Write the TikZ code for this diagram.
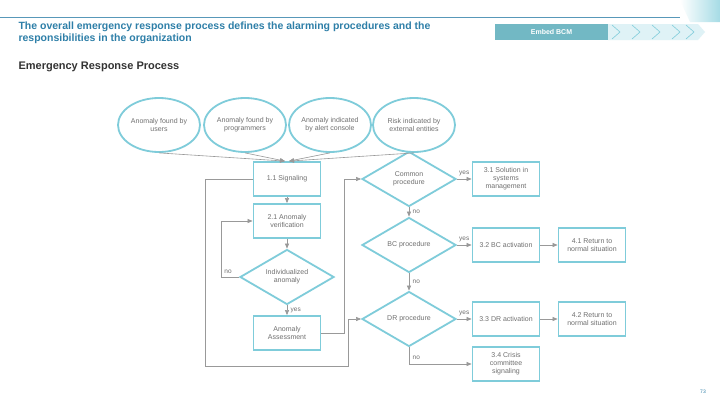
\documentclass[tikz,border=0pt]{standalone}
\usepackage{fontspec}
\setmainfont{Liberation Sans}
\usetikzlibrary{shapes.geometric,arrows.meta}
\definecolor{cy}{HTML}{7FCCDA}
\definecolor{tx}{HTML}{707070}
\definecolor{ttl}{HTML}{2E7FA8}
\definecolor{ln}{HTML}{999999}
\begin{document}
\begin{tikzpicture}[x=1pt,y=-1pt,
 every node/.style={font=\fontsize{7}{8}\selectfont,text=tx,align=center},
 ell/.style={ellipse,draw=cy,line width=1.8pt,minimum width=82pt,minimum height=54pt,inner sep=-4pt},
 box/.style={rectangle,draw=cy,line width=1.8pt,minimum width=67pt,minimum height=34pt,inner sep=1pt},
 dia/.style={diamond,draw=cy,line width=1.8pt,aspect=1.7,minimum width=94pt,minimum height=55pt,inner sep=0pt},
 ar/.style={draw=ln,line width=0.6pt,-{Triangle[length=5pt,width=4pt]}},
 pl/.style={draw=ln,line width=0.6pt},
 lbl/.style={font=\fontsize{6.5}{7}\selectfont}]
\useasboundingbox (0,0) rectangle (720,405);
\fill[white] (0,0) rectangle (720,405);
% header
\draw[ttl!80,line width=0.8pt] (0,17) -- (680,17);
\shade[left color=white,right color=cy!70] (680,0) -- (720,0) -- (720,22) -- (690,22) -- cycle;
\node[anchor=west,align=left,text=ttl,font=\bfseries\fontsize{10.5}{12}\selectfont] (title) at (15,33) {The overall emergency response process defines the alarming procedures and the\\responsibilities in the organization};
\node[anchor=west,text=black!80,font=\bfseries\fontsize{11}{13}\selectfont] (sub) at (15,67) {Emergency Response Process};
\node[fill=cy!90!black,minimum width=113pt,minimum height=16pt,inner sep=0pt,text=white,font=\bfseries\fontsize{7}{8}\selectfont] (bcm) at (551.5,32) {Embed BCM};
\fill[cy!25] (608,24) -- (698,24) -- (705,32) -- (698,40) -- (608,40) -- cycle;
\foreach \x in {612,632,652,672,686}{\draw[cy,line width=0.6pt] (\x,25) -- (\x+8,32) -- (\x,39);}
\node[font=\fontsize{5}{6}\selectfont,text=ttl] (pg) at (703,392) {73};
% nodes
\node[ell] (e1) at (159,125) {Anomaly found by\\users};
\node[ell] (e2) at (245,125) {Anomaly found by\\programmers};
\node[ell] (e3) at (330,125) {Anomaly indicated\\by alert console};
\node[ell] (e4) at (414,125) {Risk indicated by\\external entities};
\node[box] (s11) at (287,179) {1.1 Signaling};
\node[box] (s21) at (287,221) {2.1 Anomaly\\verification};
\node[dia] (ind) at (287,277) {Individualized\\anomaly};
\node[box] (aa) at (287,333) {Anomaly\\Assessment};
\node[dia] (cp) at (409,179) {Common\\procedure};
\node[dia] (bc) at (409,245) {BC procedure};
\node[dia] (dr) at (409,319) {DR procedure};
\node[box] (b31) at (506,179) {3.1 Solution in\\systems\\management};
\node[box] (b32) at (506,245) {3.2 BC activation};
\node[box] (b41) at (592,245) {4.1 Return to\\normal situation};
\node[box] (b33) at (506,319) {3.3 DR activation};
\node[box] (b42) at (592,319) {4.2 Return to\\normal situation};
\node[box] (b34) at (506,364) {3.4 Crisis\\committee\\signaling};
% connectors
\draw[ar] (e1.south) -- ([xshift=-2pt]s11.north);
\draw[ar] (e2.south) -- ([xshift=-2pt]s11.north);
\draw[ar] (e3.south) -- ([xshift=2pt]s11.north);
\draw[ar] (e4.south) -- ([xshift=2pt]s11.north);
\draw[ar] (s11) -- (s21);
\draw[ar] (s21) -- (ind);
\draw[ar] (ind) -- node[right,lbl]{yes} (aa);
\draw[ar] (ind.west) -- node[above,lbl,pos=0.5,xshift=-2pt]{no} ++(-18,0) |- (s21.west);
\draw[ar] (s11.west) -- ++(-47,0) |- (348,366) |- (dr.west);
\draw[ar] (aa.east) -- ++(23,0) |- (cp.west);
\draw[ar] (cp) -- node[right,lbl]{no} (bc);
\draw[ar] (bc) -- node[right,lbl]{no} (dr);
\draw[ar] (cp.east) -- node[above,lbl]{yes} (b31.west);
\draw[ar] (bc.east) -- node[above,lbl]{yes} (b32.west);
\draw[ar] (dr.east) -- node[above,lbl]{yes} (b33.west);
\draw[ar] (b32) -- (b41);
\draw[ar] (b33) -- (b42);
\draw[ar] (dr.south) |- node[pos=0.3,right,lbl]{no} (b34.west);
\end{tikzpicture}
\end{document}
